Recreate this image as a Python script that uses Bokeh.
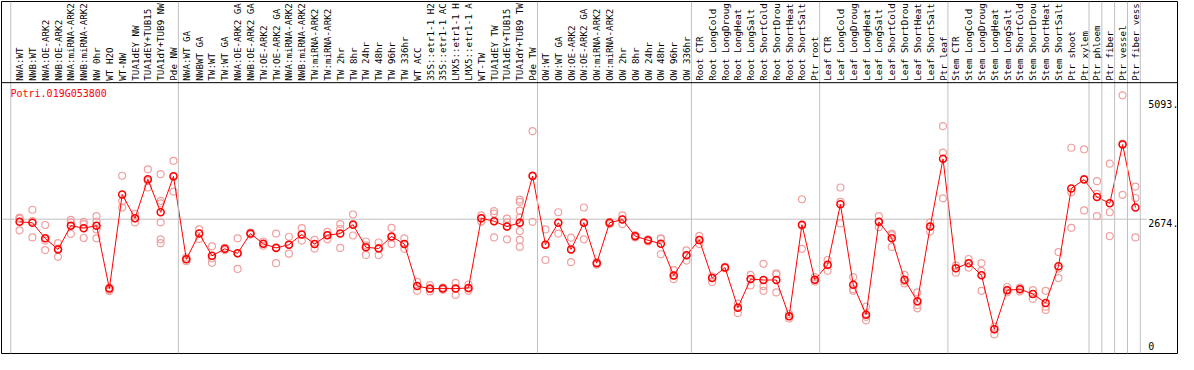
import math
from bokeh.plotting import figure
from bokeh.models import Range1d, Span
from bokeh.embed import file_html
from bokeh.resources import INLINE
from bokeh.core.properties import value

gene = "Potri.019G053800"

# category labels as shown (truncated to 14 characters, like the reference)
categories = [
    "NWA:WT", "NWB:WT", "NWA:OE-ARK2", "NWB:OE-ARK2", "NWA:miRNA-ARK2", "NWB:miRNA-ARK2",
    "NW 0hr", "WT H2O", "WT-NW", "TUA1dEY NW", "TUA1dEY+TUB15", "TUA1dY+TUB9 NW", "Pde NW",
    "NWA:WT GA", "NWBWT GA", "TW:WT", "TW:WT GA", "NWA:OE-ARK2 GA", "NWB:OE-ARK2 GA",
    "TW:OE-ARK2", "TW:OE-ARK2 GA", "NWA:miRNA-ARK2", "NWB:miRNA-ARK2", "TW:miRNA-ARK2",
    "TW:miRNA-ARK2", "TW 2hr", "TW 8hr", "TW 24hr", "TW 48hr", "TW 96hr", "TW 336hr", "WT ACC",
    "35S::etr1-1 H2", "35S::etr1-1 AC", "LMX5::etr1-1 H", "LMX5::etr1-1 A", "WT-TW",
    "TUA1dEY TW", "TUA1dEY+TUB15", "TUA1dY+TUB9 TW", "Pde TW",
    "OW:WT", "OW:WT GA", "OW:OE-ARK2", "OW:OE-ARK2 GA", "OW:miRNA-ARK2", "OW:miRNA-ARK2",
    "OW 2hr", "OW 8hr", "OW 24hr", "OW 48hr", "OW 96hr", "OW 336hr",
    "Root CTR", "Root LongCold", "Root LongDroug", "Root LongHeat", "Root LongSalt",
    "Root ShortCold", "Root ShortDrou", "Root ShortHeat", "Root ShortSalt", "Ptr root",
    "Leaf CTR", "Leaf LongCold", "Leaf LongDroug", "Leaf LongHeat", "Leaf LongSalt",
    "Leaf ShortCold", "Leaf ShortDrou", "Leaf ShortHeat", "Leaf ShortSalt", "Ptr leaf",
    "Stem CTR", "Stem LongCold", "Stem LongDroug", "Stem LongHeat", "Stem LongSalt",
    "Stem ShortCold", "Stem ShortDrou", "Stem ShortHeat", "Stem ShortSalt",
    "Ptr shoot", "Ptr xylem", "Ptr phloem", "Ptr fiber", "Ptr vessel", "Ptr fiber vess",
]

means = [
    2620, 2601, 2284, 2058, 2543, 2491, 2543, 1262, 3177, 2692,
    3487, 2815, 3545, 1857, 2381, 1929, 2071, 1980, 2381, 2174,
    2090, 2155, 2362, 2168, 2349, 2381, 2562, 2103, 2077, 2323,
    2168, 1314, 1262, 1262, 1262, 1275, 2692, 2633, 2523, 2601,
    3552, 2155, 2601, 2058, 2601, 1780, 2601, 2666, 2329, 2245,
    2174, 1528, 1941, 2252, 1476, 1689, 874, 1456, 1437, 1437,
    700, 2562, 1443, 1747, 2976, 1340, 732, 2620, 2284, 1443,
    1004, 2523, 3901, 1676, 1780, 1534, 435, 1230, 1249, 1152,
    971, 1715, 3299, 3481, 3125, 2996, 4192, 2912,
]

replicates = [
    [2704, 2685, 2446], [2866, 2633, 2304], [2556, 2239, 2045], [2187, 2077, 1909],
    [2659, 2608, 2375], [2620, 2575, 2291], [2737, 2627, 2465, 2284], [1282, 1237, 1211],
    [3558, 3041, 2912], [2782, 2692, 2608], [3688, 3455, 3319],
    [3590, 3047, 2996, 2608, 2265, 2187], [3862, 3539, 3235], [1896, 1857, 1818],
    [2465, 2381, 2271], [2122, 1877, 1786], [2090, 2071, 2045], [2284, 1980, 1663],
    [2401, 2381, 2362], [2220, 2174, 2135], [2381, 2103, 1780], [2317, 2155, 1974],
    [2491, 2362, 2239], [2252, 2168, 2077], [2414, 2349, 2265], [2575, 2478, 2090],
    [2769, 2575, 2342], [2220, 2142, 1948], [2200, 2090, 1941], [2498, 2304, 2168],
    [2284, 2168, 2071], [1398, 1314, 1217], [1334, 1249, 1204], [1282, 1262, 1237],
    [1379, 1262, 1133], [1346, 1262, 1217], [2750, 2692, 2627], [2840, 2789, 2633, 2304],
    [2685, 2608, 2523, 2265], [3073, 3028, 2847, 2704, 2608, 2433, 2252, 2110],
    [4464, 3565, 2620], [2465, 2155, 1844], [2815, 2601, 2381], [2297, 2058, 1799],
    [2912, 2601, 2265], [1799, 1780, 1747], [2620, 2601, 2575], [2750, 2672, 2575],
    [2349, 2329, 2304], [2265, 2245, 2220], [2284, 2271, 1961], [1638, 1528, 1456],
    [2038, 1941, 1832], [2336, 2252, 2168], [1508, 1476, 1398], [1702, 1689, 1676],
    [958, 874, 764], [1540, 1456, 1327], [1767, 1314, 1217], [1573, 1553, 1185],
    [745, 700, 654], [3080, 2543, 2071], [1495, 1443, 1405], [1844, 1734, 1624],
    [3319, 3028, 2588], [1495, 1249, 1217], [894, 687, 616], [2737, 2608, 2511],
    [2381, 2349, 2110], [1540, 1411, 1366], [1185, 926, 861], [2608, 2523, 2426],
    [4567, 4030, 3099], [1728, 1676, 1586], [1864, 1780, 1689], [1780, 1624, 1217],
    [486, 435, 331], [1295, 1230, 1185], [1282, 1249, 1204], [1230, 1152, 1055],
    [1217, 894, 829], [2006, 1670, 1476], [4127, 3222, 2498], [4095, 3494, 2853],
    [3448, 3190, 2737], [3804, 2815, 2329], [5194, 4211, 3170], [3338, 3105, 2304],
]

group_ends = [12, 40, 52, 62, 72, 83, 84, 85, 86, 87]
tick_values = [0, 2674, 5093]
tick_labels = ["0", "2674.", "5093."]

# ---- layout (styles) ----
X_START, X_END = -1.41, 90.28
Y_START, Y_END = -58, 7102
HEADER_Y = 5451          # boundary between label header and plot area
FONT = value("DejaVu Sans Mono")
GREY = "#c0c0c0"

p = figure(width=1178, height=354, output_backend="svg", toolbar_location=None,
           x_range=Range1d(X_START, X_END), y_range=Range1d(Y_START, Y_END),
           x_axis_location=None, y_axis_location=None,
           min_border_left=1, min_border_right=1, min_border_top=1, min_border_bottom=1)
p.grid.visible = False
p.outline_line_color = "black"
p.outline_line_width = 1
p.background_fill_color = "white"
p.border_fill_color = "white"

idx = list(range(len(categories)))

# group separators (full height, grey)
sep_positions = [-0.69] + [e + 0.38 for e in group_ends]
for s in sep_positions:
    p.add_layout(Span(location=s, dimension="height", line_color=GREY, line_width=1))

# header boundary
p.add_layout(Span(location=HEADER_Y, dimension="width", line_color="black", line_width=1))

# horizontal grid line at middle tick
right_edge = sep_positions[-1]
p.segment(x0=[X_START], y0=[tick_values[1]], x1=[right_edge + 0.5], y1=[tick_values[1]],
          line_color=GREY, line_width=1)

# category labels in header
p.text(x=idx, y=[HEADER_Y] * len(idx), text=categories, angle=math.pi / 2,
       text_align="left", text_baseline="middle", y_offset=-2,
       text_font=FONT, text_font_size="9.2px", text_color="black")

# tick labels on the right
p.text(x=[right_edge] * len(tick_values), y=tick_values, text=tick_labels,
       x_offset=8, y_offset=[-5 if v == tick_values[0] else 4 for v in tick_values],
       text_align="left", text_baseline="middle",
       text_font=FONT, text_font_size="10px", text_color="black")

# gene name
p.text(x=[X_START], y=[HEADER_Y], text=[gene], x_offset=9, y_offset=11,
       text_align="left", text_baseline="middle",
       text_font=FONT, text_font_size="10px", text_color="red")

# replicate points
rx, ry = [], []
for i, reps in enumerate(replicates):
    for v in reps:
        rx.append(i)
        ry.append(v)
p.scatter(rx, ry, marker="circle", size=7, fill_color=None,
          line_color="#f0a0a0", line_width=1.2)

# mean line and points
p.line(idx, means, line_color="red", line_width=1)
p.scatter(idx, means, marker="circle", size=7, fill_color=None,
          line_color="red", line_width=1.5)

open("out.html", "w").write(file_html(p, INLINE))
